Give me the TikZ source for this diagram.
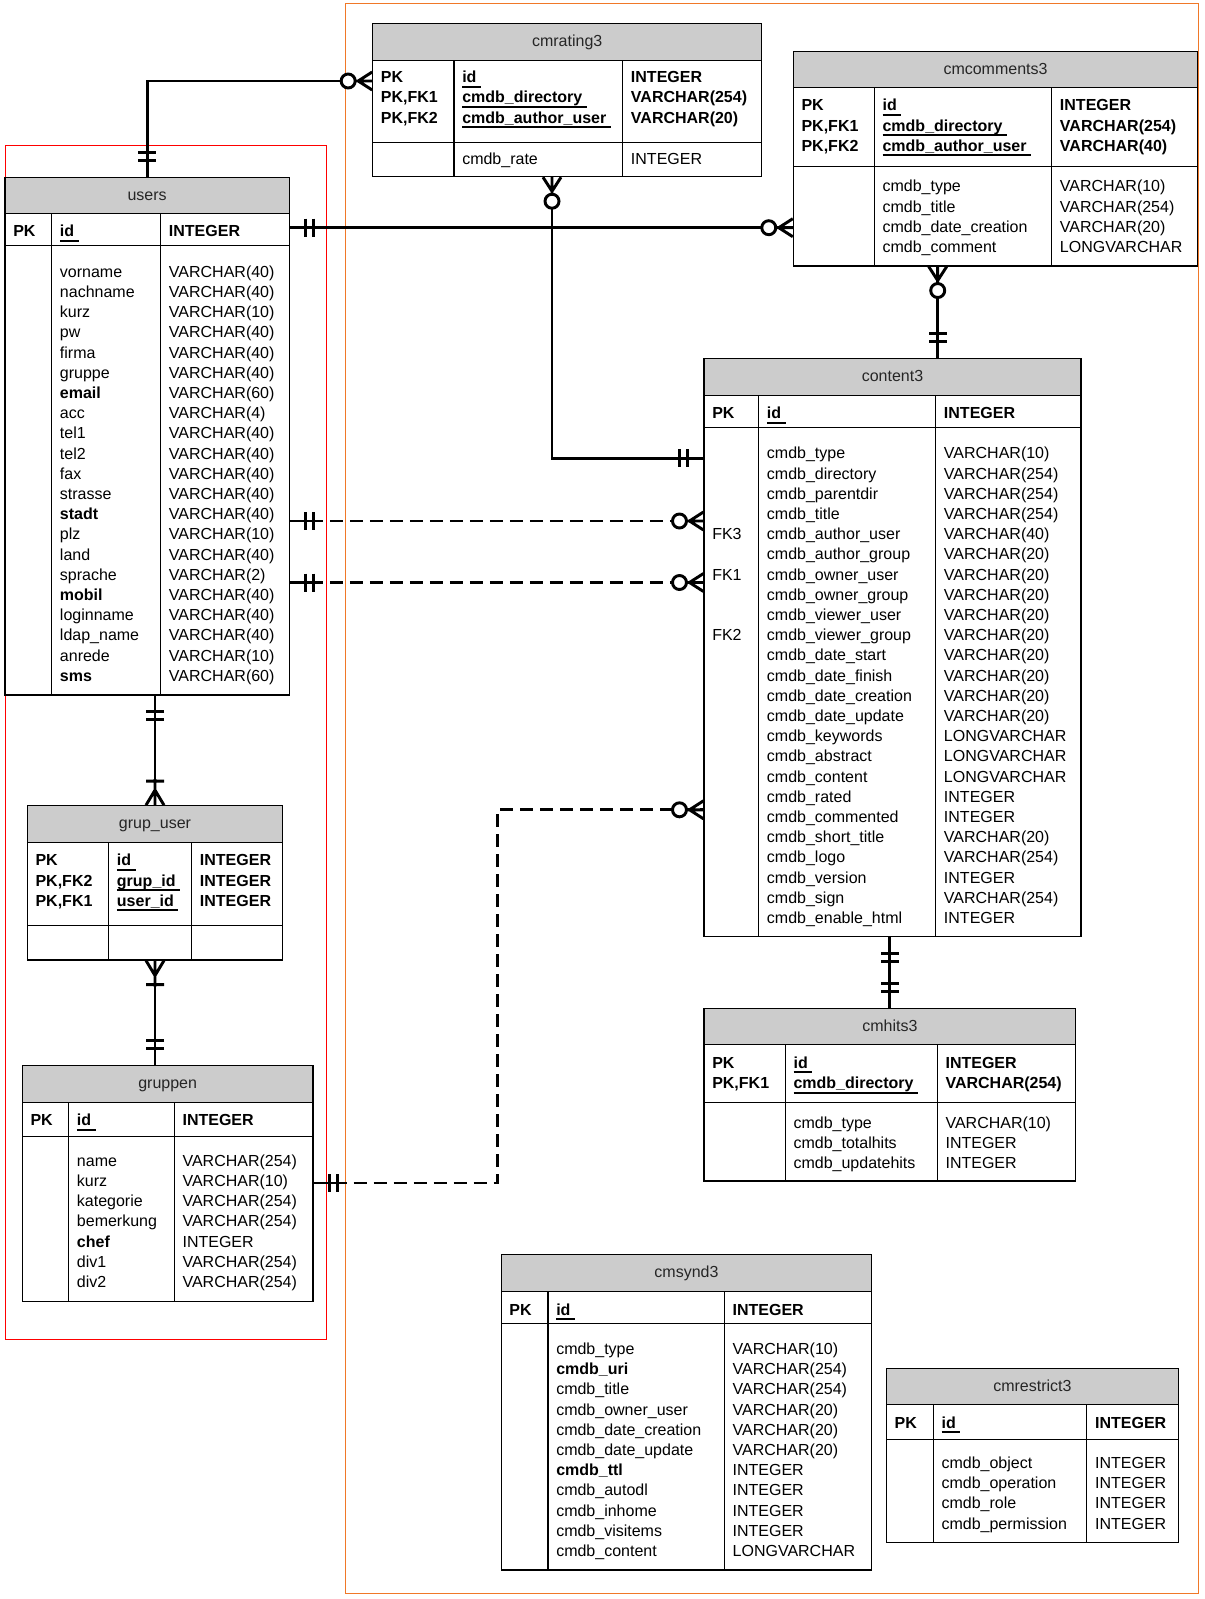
\documentclass[tikz,border=0pt]{standalone}
\usepackage{fontspec}
\setmainfont{Liberation Sans}
\usetikzlibrary{calc,fit,decorations.markings}
\definecolor{hdrgray}{RGB}{204,204,204}
\definecolor{frameorange}{RGB}{240,120,40}
\newcommand{\erfont}{\fontsize{12}{15.15}\selectfont}
\newcommand{\fstrut}{\rule{0pt}{9pt}}
\newsavebox{\keybox}
\newcommand{\keyfld}[1]{\sbox{\keybox}{#1\ }\rlap{\rule[-3.6pt]{\wd\keybox}{1.5pt}}\usebox{\keybox}}

\tikzset{
  tbl/.style={draw, line width=0.8pt, inner sep=0pt},
  hdr/.style={tbl, fill=hdrgray},
  ttl/.style={anchor=base, inner sep=0pt, font=\erfont\color{black!85}},
  grid/.style={line width=0.8pt},
  fld/.style={anchor=north west, align=left, inner sep=0pt, font=\erfont},
  key/.style={fld, font=\erfont\bfseries},
  rel/.style={line width=2.2pt},
  fkrel/.style={rel, dash pattern=on 9.75pt off 5.25pt},
  one start/.style={postaction={decorate, decoration={markings, mark=at position 0 with
      {\draw[solid, line width=2.2pt] (0,0) -- (26,0) (16,-9) -- (16,9) (24,-9) -- (24,9);}}}},
  one end/.style={postaction={decorate, decoration={markings, mark=at position 1 with
      {\draw[solid, line width=2.2pt] (0,0) -- (-26,0) (-16,-9) -- (-16,9) (-24,-9) -- (-24,9);}}}},
  zeromany start/.style={postaction={decorate, decoration={markings, mark=at position 0 with
      {\filldraw[solid, line width=2.2pt, fill=white] (24,0) circle[radius=5.25pt];
       \draw[solid, line width=2.2pt] (0,-9) -- (14,0) -- (0,9) (0,0) -- (17,0);}}}},
  zeromany end/.style={postaction={decorate, decoration={markings, mark=at position 1 with
      {\filldraw[solid, line width=2.2pt, fill=white] (-24,0) circle[radius=5.25pt];
       \draw[solid, line width=2.2pt] (0,-9) -- (-14,0) -- (0,9) (0,0) -- (-17,0);}}}},
  onemany start/.style={postaction={decorate, decoration={markings, mark=at position 0 with
      {\draw[solid, line width=2.2pt] (0,-9) -- (15,0) -- (0,9) (0,0) -- (26,0) (24,-9) -- (24,9);}}}},
  onemany end/.style={postaction={decorate, decoration={markings, mark=at position 1 with
      {\draw[solid, line width=2.2pt] (0,-9) -- (-15,0) -- (0,9) (0,0) -- (-26,0) (-24,-9) -- (-24,9);}}}},
}

\begin{document}
\begin{tikzpicture}[x=0.75pt, y=-0.75pt]
\useasboundingbox (0,0) rectangle (1204,1599);

% levels where the relations meet the tables
\coordinate (lvl-rate) at (0,81);
\coordinate (lvl-id) at (0,227.7);
\coordinate (lvl-ratx) at (552,0);
\coordinate (lvl-ratc) at (0,458.4);
\coordinate (lvl-comx) at (937.7,0);
\coordinate (lvl-fk3) at (0,521);
\coordinate (lvl-fk1) at (0,582.5);
\coordinate (lvl-fk2) at (0,1183);
\coordinate (lvl-jog) at (497.3,0);
\coordinate (lvl-rated) at (0,809.8);
\coordinate (ttl-drop) at (0,4.9);

% frames
\draw[red, line width=0.75pt] (5,145) rectangle (326,1339);
\draw[frameorange, line width=0.75pt] (345,3.5) rectangle (1198,1593);

% users
\node[tbl, fit={(5,177.3) (289.3,695)}] (users) {};
\node[hdr, fit={(5,177.3) (289.3,213.3)}] (users-h) {};
\node[ttl] (users-t) at ($(users-h.center)+(ttl-drop)$) {users};
\draw[grid] (5,245.7) -- (289.3,245.7) (51.7,213.3) -- (51.7,695) (160.7,213.3) -- (160.7,695);
\node[key] (users-k1) at (13,224.5) {\fstrut PK};
\node[key] (users-k2) at (59.7,224.5) {\fstrut\keyfld{id}};
\node[key] (users-k3) at (168.7,224.5) {\fstrut INTEGER};
\node[fld] (users-a2) at (59.7,265) {\fstrut vorname\\nachname\\kurz\\pw\\firma\\gruppe\\\textbf{email}\\acc\\tel1\\tel2\\fax\\strasse\\\textbf{stadt}\\plz\\land\\sprache\\\textbf{mobil}\\loginname\\ldap\_name\\anrede\\\textbf{sms}};
\node[fld] (users-a3) at (168.7,265) {\fstrut VARCHAR(40)\\VARCHAR(40)\\VARCHAR(10)\\VARCHAR(40)\\VARCHAR(40)\\VARCHAR(40)\\VARCHAR(60)\\VARCHAR(4)\\VARCHAR(40)\\VARCHAR(40)\\VARCHAR(40)\\VARCHAR(40)\\VARCHAR(40)\\VARCHAR(10)\\VARCHAR(40)\\VARCHAR(2)\\VARCHAR(40)\\VARCHAR(40)\\VARCHAR(40)\\VARCHAR(10)\\VARCHAR(60)};

% cmrating3
\node[tbl, fit={(372.7,23.3) (761.7,176.7)}] (cmrating3) {};
\node[hdr, fit={(372.7,23.3) (761.7,60.7)}] (cmrating3-h) {};
\node[ttl] (cmrating3-t) at ($(cmrating3-h.center)+(ttl-drop)$) {cmrating3};
\draw[grid] (372.7,142.7) -- (761.7,142.7) (454,60.7) -- (454,176.7) (622.7,60.7) -- (622.7,176.7);
\node[key] (cmrating3-k1) at (380.7,70.5) {\fstrut PK\\PK,FK1\\PK,FK2};
\node[key] (cmrating3-k2) at (462,70.5) {\fstrut\keyfld{id}\\\keyfld{cmdb\_directory}\\\keyfld{cmdb\_author\_user}};
\node[key] (cmrating3-k3) at (630.7,70.5) {\fstrut INTEGER\\VARCHAR(254)\\VARCHAR(20)};
\node[fld] (cmrating3-a2) at (462,152) {\fstrut cmdb\_rate};
\node[fld] (cmrating3-a3) at (630.7,152) {\fstrut INTEGER};

% cmcomments3
\node[tbl, fit={(793.3,51.7) (1197.7,266)}] (cmcomments3) {};
\node[hdr, fit={(793.3,51.7) (1197.7,87.3)}] (cmcomments3-h) {};
\node[ttl] (cmcomments3-t) at ($(cmcomments3-h.center)+(ttl-drop)$) {cmcomments3};
\draw[grid] (793.3,166.7) -- (1197.7,166.7) (874.3,87.3) -- (874.3,266) (1051.7,87.3) -- (1051.7,266);
\node[key] (cmcomments3-k1) at (801.3,98.7) {\fstrut PK\\PK,FK1\\PK,FK2};
\node[key] (cmcomments3-k2) at (882.3,98.7) {\fstrut\keyfld{id}\\\keyfld{cmdb\_directory}\\\keyfld{cmdb\_author\_user}};
\node[key] (cmcomments3-k3) at (1059.7,98.7) {\fstrut INTEGER\\VARCHAR(254)\\VARCHAR(40)};
\node[fld] (cmcomments3-a2) at (882.3,179.7) {\fstrut cmdb\_type\\cmdb\_title\\cmdb\_date\_creation\\cmdb\_comment};
\node[fld] (cmcomments3-a3) at (1059.7,179.7) {\fstrut VARCHAR(10)\\VARCHAR(254)\\VARCHAR(20)\\LONGVARCHAR};

% content3
\node[tbl, fit={(704,358.1) (1081,936.5)}] (content3) {};
\node[hdr, fit={(704,358.1) (1081,395.1)}] (content3-h) {};
\node[ttl] (content3-t) at ($(content3-h.center)+(ttl-drop)$) {content3};
\draw[grid] (704,427.3) -- (1081,427.3) (758.7,395.1) -- (758.7,936.5) (935.7,395.1) -- (935.7,936.5);
\node[key] (content3-k1) at (712,406.6) {\fstrut PK};
\node[key] (content3-k2) at (766.7,406.6) {\fstrut\keyfld{id}};
\node[key] (content3-k3) at (943.7,406.6) {\fstrut INTEGER};
\node[fld] (content3-fk3) at (712,527.4) {\fstrut FK3};
\node[fld] (content3-fk1) at (712,567.8) {\fstrut FK1};
\node[fld] (content3-fk2) at (712,628.4) {\fstrut FK2};
\node[fld] (content3-a2) at (766.7,446.6) {\fstrut cmdb\_type\\cmdb\_directory\\cmdb\_parentdir\\cmdb\_title\\cmdb\_author\_user\\cmdb\_author\_group\\cmdb\_owner\_user\\cmdb\_owner\_group\\cmdb\_viewer\_user\\cmdb\_viewer\_group\\cmdb\_date\_start\\cmdb\_date\_finish\\cmdb\_date\_creation\\cmdb\_date\_update\\cmdb\_keywords\\cmdb\_abstract\\cmdb\_content\\cmdb\_rated\\cmdb\_commented\\cmdb\_short\_title\\cmdb\_logo\\cmdb\_version\\cmdb\_sign\\cmdb\_enable\_html};
\node[fld] (content3-a3) at (943.7,446.6) {\fstrut VARCHAR(10)\\VARCHAR(254)\\VARCHAR(254)\\VARCHAR(254)\\VARCHAR(40)\\VARCHAR(20)\\VARCHAR(20)\\VARCHAR(20)\\VARCHAR(20)\\VARCHAR(20)\\VARCHAR(20)\\VARCHAR(20)\\VARCHAR(20)\\VARCHAR(20)\\LONGVARCHAR\\LONGVARCHAR\\LONGVARCHAR\\INTEGER\\INTEGER\\VARCHAR(20)\\VARCHAR(254)\\INTEGER\\VARCHAR(254)\\INTEGER};

% grup_user
\node[tbl, fit={(27.3,805.7) (282.7,960)}] (grupuser) {};
\node[hdr, fit={(27.3,805.7) (282.7,842.4)}] (grupuser-h) {};
\node[ttl] (grupuser-t) at ($(grupuser-h.center)+(ttl-drop)$) {grup\_user};
\draw[grid] (27.3,925.3) -- (282.7,925.3) (108.7,842.4) -- (108.7,960) (191.7,842.4) -- (191.7,960);
\node[key] (grupuser-k1) at (35.3,853.7) {\fstrut PK\\PK,FK2\\PK,FK1};
\node[key] (grupuser-k2) at (116.7,853.7) {\fstrut\keyfld{id}\\\keyfld{grup\_id}\\\keyfld{user\_id}};
\node[key] (grupuser-k3) at (199.7,853.7) {\fstrut INTEGER\\INTEGER\\INTEGER};

% gruppen
\node[tbl, fit={(22.3,1065.3) (313,1301.2)}] (gruppen) {};
\node[hdr, fit={(22.3,1065.3) (313,1102.4)}] (gruppen-h) {};
\node[ttl] (gruppen-t) at ($(gruppen-h.center)+(ttl-drop)$) {gruppen};
\draw[grid] (22.3,1136.3) -- (313,1136.3) (68.7,1102.4) -- (68.7,1301.2) (174.3,1102.4) -- (174.3,1301.2);
\node[key] (gruppen-k1) at (30.3,1113.7) {\fstrut PK};
\node[key] (gruppen-k2) at (76.7,1113.7) {\fstrut\keyfld{id}};
\node[key] (gruppen-k3) at (182.3,1113.7) {\fstrut INTEGER};
\node[fld] (gruppen-a2) at (76.7,1154) {\fstrut name\\kurz\\kategorie\\bemerkung\\\textbf{chef}\\div1\\div2};
\node[fld] (gruppen-a3) at (182.3,1154) {\fstrut VARCHAR(254)\\VARCHAR(10)\\VARCHAR(254)\\VARCHAR(254)\\INTEGER\\VARCHAR(254)\\VARCHAR(254)};

% cmhits3
\node[tbl, fit={(704,1008.3) (1075.7,1181)}] (cmhits3) {};
\node[hdr, fit={(704,1008.3) (1075.7,1044.3)}] (cmhits3-h) {};
\node[ttl] (cmhits3-t) at ($(cmhits3-h.center)+(ttl-drop)$) {cmhits3};
\draw[grid] (704,1102.3) -- (1075.7,1102.3) (785.3,1044.3) -- (785.3,1181) (937.3,1044.3) -- (937.3,1181);
\node[key] (cmhits3-k1) at (712,1056.4) {\fstrut PK\\PK,FK1};
\node[key] (cmhits3-k2) at (793.3,1056.4) {\fstrut\keyfld{id}\\\keyfld{cmdb\_directory}};
\node[key] (cmhits3-k3) at (945.3,1056.4) {\fstrut INTEGER\\VARCHAR(254)};
\node[fld] (cmhits3-a2) at (793.3,1116.3) {\fstrut cmdb\_type\\cmdb\_totalhits\\cmdb\_updatehits};
\node[fld] (cmhits3-a3) at (945.3,1116.3) {\fstrut VARCHAR(10)\\INTEGER\\INTEGER};

% cmsynd3
\node[tbl, fit={(501.2,1254.3) (871.7,1570)}] (cmsynd3) {};
\node[hdr, fit={(501.2,1254.3) (871.7,1291.7)}] (cmsynd3-h) {};
\node[ttl] (cmsynd3-t) at ($(cmsynd3-h.center)+(ttl-drop)$) {cmsynd3};
\draw[grid] (501.2,1323.3) -- (871.7,1323.3) (548,1291.7) -- (548,1570) (724.4,1291.7) -- (724.4,1570);
\node[key] (cmsynd3-k1) at (509.2,1303) {\fstrut PK};
\node[key] (cmsynd3-k2) at (556,1303) {\fstrut\keyfld{id}};
\node[key] (cmsynd3-k3) at (732.4,1303) {\fstrut INTEGER};
\node[fld] (cmsynd3-a2) at (556,1342.3) {\fstrut cmdb\_type\\\textbf{cmdb\_uri}\\cmdb\_title\\cmdb\_owner\_user\\cmdb\_date\_creation\\cmdb\_date\_update\\\textbf{cmdb\_ttl}\\cmdb\_autodl\\cmdb\_inhome\\cmdb\_visitems\\cmdb\_content};
\node[fld] (cmsynd3-a3) at (732.4,1342.3) {\fstrut VARCHAR(10)\\VARCHAR(254)\\VARCHAR(254)\\VARCHAR(20)\\VARCHAR(20)\\VARCHAR(20)\\INTEGER\\INTEGER\\INTEGER\\INTEGER\\LONGVARCHAR};

% cmrestrict3
\node[tbl, fit={(886.4,1368.3) (1178.4,1542.3)}] (cmrestrict3) {};
\node[hdr, fit={(886.4,1368.3) (1178.4,1404.3)}] (cmrestrict3-h) {};
\node[ttl] (cmrestrict3-t) at ($(cmrestrict3-h.center)+(ttl-drop)$) {cmrestrict3};
\draw[grid] (886.4,1439.3) -- (1178.4,1439.3) (933.3,1404.3) -- (933.3,1542.3) (1086.9,1404.3) -- (1086.9,1542.3);
\node[key] (cmrestrict3-k1) at (894.4,1416.4) {\fstrut PK};
\node[key] (cmrestrict3-k2) at (941.3,1416.4) {\fstrut\keyfld{id}};
\node[key] (cmrestrict3-k3) at (1094.9,1416.4) {\fstrut INTEGER};
\node[fld] (cmrestrict3-a2) at (941.3,1456.3) {\fstrut cmdb\_object\\cmdb\_operation\\cmdb\_role\\cmdb\_permission};
\node[fld] (cmrestrict3-a3) at (1094.9,1456.3) {\fstrut INTEGER\\INTEGER\\INTEGER\\INTEGER};

% relations
\draw[rel, one start, zeromany end] (users.north) |- (cmrating3.west |- lvl-rate);
\draw[rel, one start, zeromany end] (users.east |- lvl-id) -- (cmcomments3.west |- lvl-id);
\draw[rel, zeromany start, one end] (cmrating3.south -| lvl-ratx) |- (content3.west |- lvl-ratc);
\draw[rel, zeromany start, one end] (cmcomments3.south -| lvl-comx) -- (content3.north -| lvl-comx);
\draw[fkrel, one start, zeromany end] (users.east |- lvl-fk3) -- (content3.west |- lvl-fk3);
\draw[fkrel, one start, zeromany end] (users.east |- lvl-fk1) -- (content3.west |- lvl-fk1);
\draw[rel, one start, onemany end] (users.south -| grupuser.north) -- (grupuser.north);
\draw[rel, onemany start, one end] (grupuser.south) -- (gruppen.north -| grupuser.south);
\draw[fkrel, one start, zeromany end] (gruppen.east |- lvl-fk2) -| (lvl-jog |- lvl-rated) -- (content3.west |- lvl-rated);
\draw[rel, one start, one end] (content3.south -| cmhits3.north) -- (cmhits3.north);

\end{tikzpicture}
\end{document}
